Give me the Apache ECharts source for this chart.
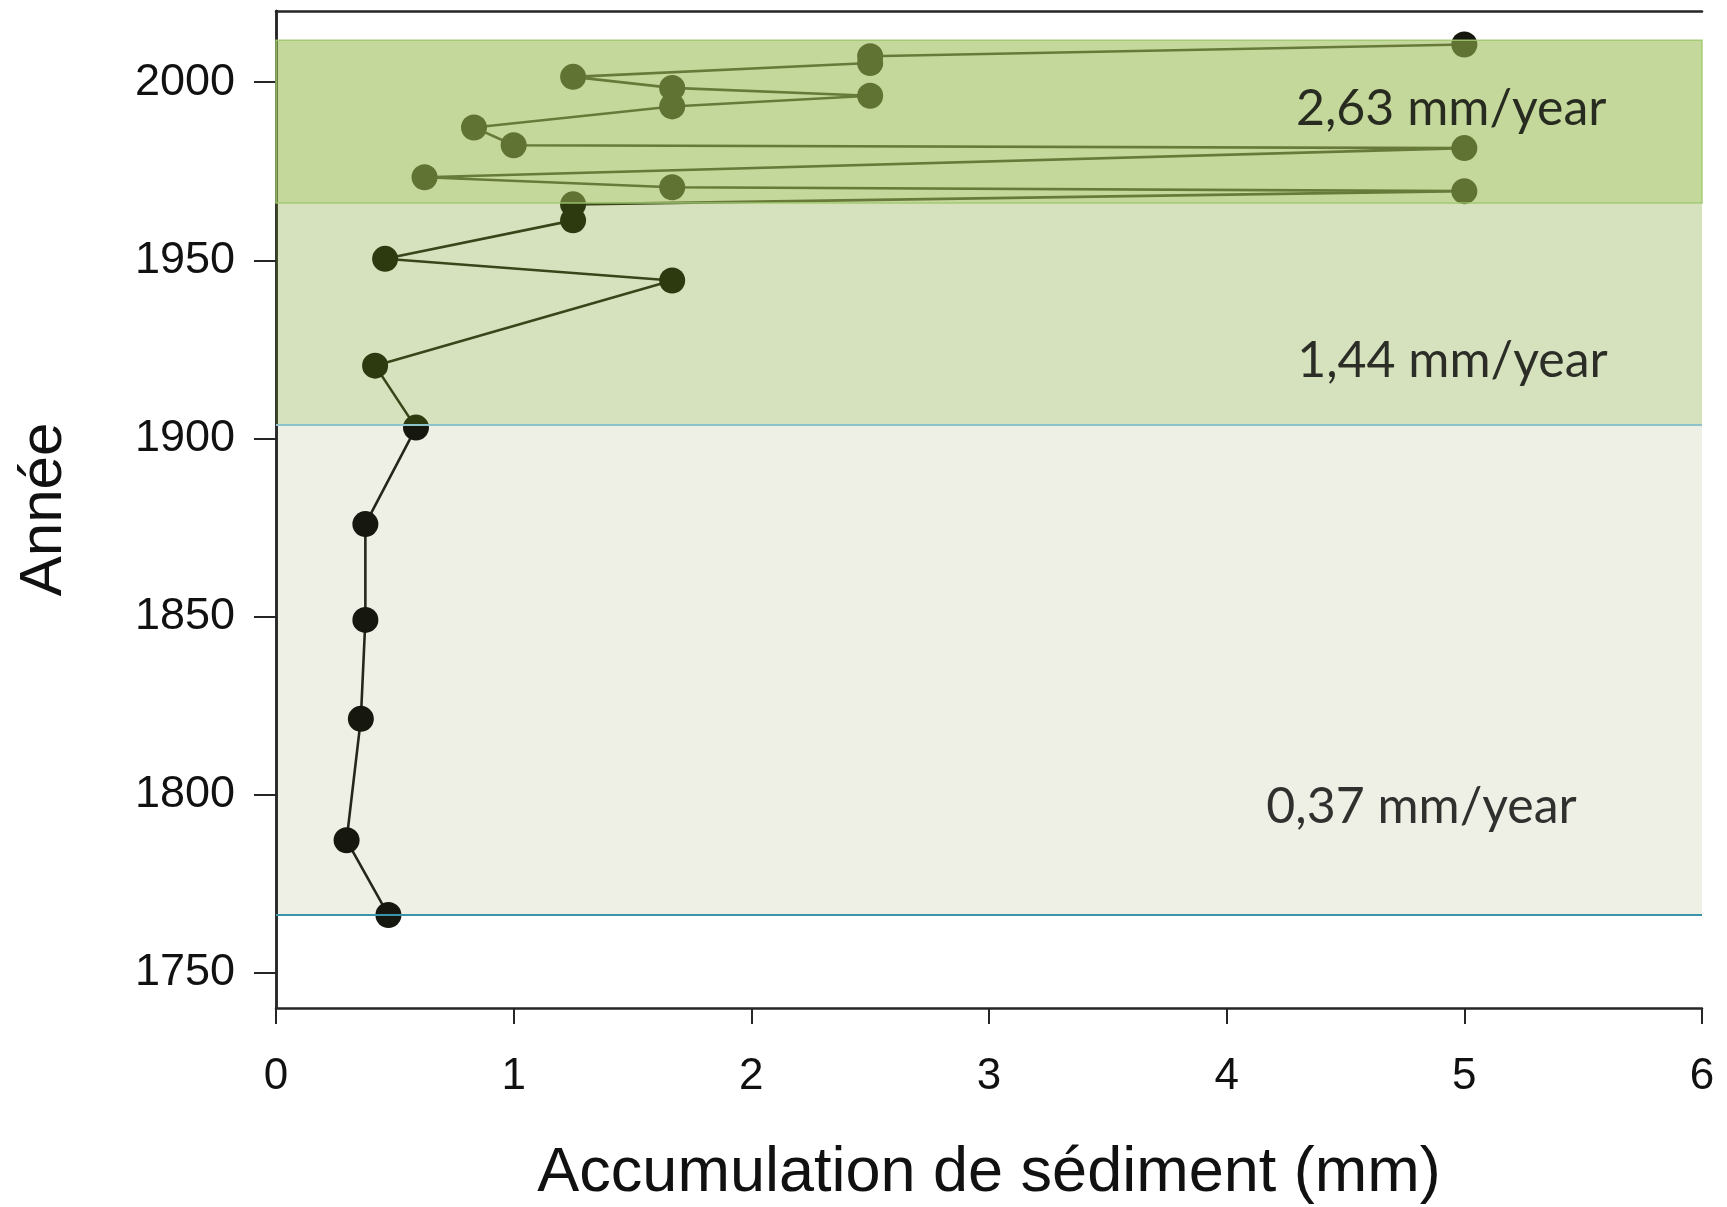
<!DOCTYPE html>
<html><head><meta charset="utf-8">
<script src="https://cdn.jsdelivr.net/npm/echarts@6/dist/echarts.min.js"></script>
<style>html,body{margin:0;padding:0;background:#fff}#c{width:1727px;height:1207px}</style>
</head><body><div id="c"></div>
<script>
// Sediment accumulation (mm) per dated layer, in core order (top to bottom)
const accumulation = [5.0, 2.5, 2.5, 1.25, 1.667, 2.5, 1.667, 0.833, 1.0, 5.0, 0.625, 1.667, 5.0, 1.25, 1.25, 0.459, 1.667, 0.417, 0.589, 0.376, 0.376, 0.357, 0.297, 0.473];
const years        = [2010.6, 2007.3, 2005.4, 2001.5, 1998.4, 1996.2, 1993.2, 1987.3, 1982.3, 1981.5, 1973.3, 1970.5, 1969.4, 1965.7, 1961.2, 1950.4, 1944.3, 1920.4, 1903.0, 1875.9, 1849.0, 1821.2, 1787.1, 1766.1];
const yearTicks = [1750, 1800, 1850, 1900, 1950, 2000];
const bandLimits = [1766.1, 1903.7, 1966.1, 2011.8];
const rateLabels = ['0,37 mm/year', '1,44 mm/year', '2,63 mm/year'];
const rateLabelX = [4.82, 4.95, 4.945];
const rateLabelY = [1796.4, 1921.8, 1992.6];

const font = "'Liberation Sans', Arial, Helvetica, sans-serif";
const chart = echarts.init(document.getElementById('c'), null, {renderer: 'canvas'});
const axisLine = {show: true, lineStyle: {color: '#262626', width: 2.5}};

chart.setOption({
  animation: false,
  backgroundColor: '#ffffff',
  grid: {left: 276, right: 25, top: 11, bottom: 199, containLabel: false, outerBoundsMode: 'none'},
  xAxis: [{
    type: 'value', min: 0, max: 6, interval: 1,
    name: 'Accumulation de sédiment (mm)', nameLocation: 'middle', nameGap: 134,
    nameTextStyle: {fontFamily: font, fontSize: 63, color: '#111'},
    axisLine: axisLine,
    axisTick: {show: true, length: 16, lineStyle: {color: '#262626', width: 2}},
    axisLabel: {fontFamily: font, fontSize: 44, color: '#111', margin: 47},
    splitLine: {show: false}
  }, {
    type: 'value', position: 'top', min: 0, max: 6,
    axisLine: axisLine, axisTick: {show: false}, axisLabel: {show: false}, splitLine: {show: false}
  }],
  yAxis: [{
    type: 'value', min: 1740, max: 2020,
    name: 'Année', nameLocation: 'middle', nameGap: 202, nameRotate: 90,
    nameTextStyle: {fontFamily: font, fontSize: 60, color: '#111'},
    axisLine: axisLine,
    axisTick: {show: true, length: 22, customValues: yearTicks, lineStyle: {color: '#262626', width: 2}},
    axisLabel: {fontFamily: font, fontSize: 45, color: '#111', margin: 41, customValues: yearTicks,
      formatter: v => String(Math.round(v))},
    splitLine: {show: false}
  }, {
    type: 'value', position: 'right', min: 1740, max: 2020,
    axisLine: axisLine, axisTick: {show: false}, axisLabel: {show: false}, splitLine: {show: false}
  }],
  series: [
    {
      type: 'line', data: [], z: 1, silent: true,
      markArea: {silent: true, z: 0, itemStyle: {color: '#eef0e6'},
        data: [[{yAxis: bandLimits[0]}, {yAxis: bandLimits[1]}]]}
    },
    {
      type: 'line', z: 3,
      data: accumulation.map((a, i) => [a, years[i]]),
      symbol: 'circle', symbolSize: 26,
      itemStyle: {color: '#16170f'},
      lineStyle: {color: '#25271d', width: 2.6}
    },
    {
      type: 'line', data: [], z: 5, silent: true,
      markArea: {silent: true, z: 10, label: {show: false},
        data: [
          [{yAxis: bandLimits[1], itemStyle: {color: 'rgba(108,151,23,0.28)'}}, {yAxis: bandLimits[2]}],
          [{yAxis: bandLimits[2], itemStyle: {color: 'rgba(153,186,80,0.57)', borderColor: 'rgba(160,200,110,0.9)', borderWidth: 1.5}}, {yAxis: bandLimits[3]}]
        ]},
      markLine: {silent: true, z: 11, symbol: ['none', 'none'], label: {show: false},
        data: [
          {yAxis: bandLimits[0], lineStyle: {color: '#3a93a8', width: 2, type: 'solid'}},
          {yAxis: bandLimits[1], lineStyle: {color: '#8ec3cc', width: 2, type: 'solid'}}
        ]}
    },
    {
      type: 'scatter', z: 20, silent: true, symbolSize: 0,
      data: rateLabelX.map((x, i) => [x, rateLabelY[i]]),
      label: {show: true, position: 'inside', formatter: p => rateLabels[p.dataIndex],
        fontFamily: "'Century Gothic', 'URW Gothic', 'URW Gothic L', Lato, sans-serif",
        fontWeight: 'normal', fontSize: 50, color: '#000'}
    }
  ]
});
</script></body></html>
